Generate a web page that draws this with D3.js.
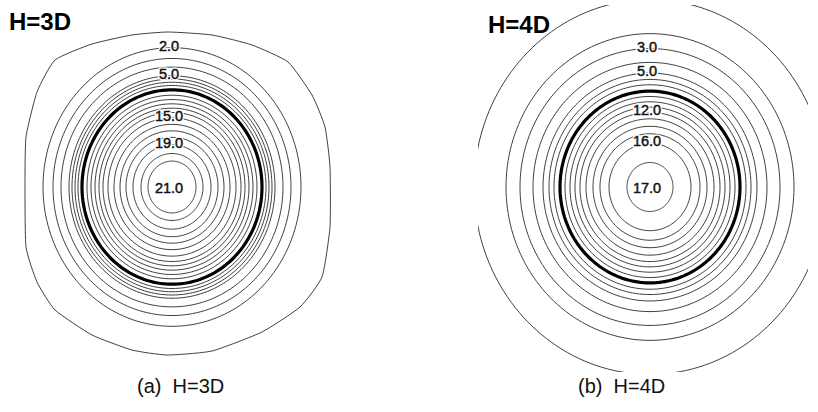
<!DOCTYPE html>
<html>
<head>
<meta charset="utf-8">
<script src="https://cdn.jsdelivr.net/npm/d3@7"></script>
<style>
  html, body { margin: 0; padding: 0; background: #fff; }
  svg { display: block; }
</style>
</head>
<body>
<svg id="chart" width="818" height="412"></svg>
<script>
// ---------------- DATA ----------------
// Panel (a) H=3D : contour levels and their horizontal radii (chart units)
const levelsA = [21, 20, 19, 18, 17, 16, 15, 14, 13, 12, 11, 10, 8, 7, 6, 5, 4, 3, 2];
const radiusA = [24, 31, 39, 46, 52, 58, 64, 69, 73, 77, 81, 85, 94, 97, 100, 103, 111, 119, 129];
const labelsA = [2, 5, 15, 19, 21];
// outermost (1.0) contour of panel (a), vertices (chart units, relative to centre)
const outerAx = [-4, 40, 80, 116, 140, 153, 158, 158, 150, 128, 90, 40, -5, -40, -80, -117, -135, -146, -147, -146, -135, -117, -80, -40];
const outerAy = [-155, -152, -142, -125, -92, -60, -20, 40, 90, 120, 145, 164, 168, 163, 148, 123, 95, 60, 0, -50, -95, -127, -143, -152];
const pileA = 90;      // thick ring radius
const aspectA = 1.08;  // vertical / horizontal radius

// Panel (b) H=4D
const levelsB = [17, 16, 15, 14, 13, 12, 11, 10, 9, 7, 6, 5, 4, 3, 2, 1];
const radiusB = [23, 41, 50, 57, 64, 70, 75, 80, 85, 96, 101, 107, 117, 130, 144, 176];
const labelsB = [3, 5, 12, 16, 17];
const pileB = 90;
const aspectB = 1.065;

const titles = ["H=3D", "H=4D"];
const captions = ["(a)  H=3D", "(b)  H=4D"];

// ---------------- DRAW ----------------
const svg = d3.select("#chart");
const angles = d3.range(0, 361, 2).map(d => d * Math.PI / 180);

function panel(opts) {
  const g = svg.append("g");
  const xs = d3.scaleLinear().domain([-200, 200]).range([opts.cx - 200, opts.cx + 200]);
  const ys = d3.scaleLinear().domain([-200, 200]).range([opts.cy - 200, opts.cy + 200]);

  let body = g;
  if (opts.clip) {
    const id = "clip" + opts.idx;
    svg.append("defs").append("clipPath").attr("id", id)
      .append("rect")
      .attr("x", xs(opts.clip[0])).attr("y", ys(opts.clip[2]))
      .attr("width", xs(opts.clip[1]) - xs(opts.clip[0]))
      .attr("height", ys(opts.clip[3]) - ys(opts.clip[2]));
    body = g.append("g").attr("clip-path", `url(#${id})`);
  }

  const ellipse = (r) => d3.line()
    .x(a => xs(r * Math.cos(a)))
    .y(a => ys(r * opts.aspect * Math.sin(a)))
    .curve(d3.curveLinearClosed)(angles);

  body.selectAll("path.ring")
    .data(opts.levels.map((l, i) => ({ level: l, r: opts.radius[i] })))
    .join("path")
    .attr("class", "ring")
    .attr("d", d => ellipse(d.r))
    .attr("fill", "none")
    .attr("stroke", "#2a2a2a")
    .attr("stroke-width", 0.9);

  if (opts.outerX) {
    const pts = opts.outerX.map((x, i) => [x, opts.outerY[i]]);
    body.append("path")
      .attr("d", d3.line().x(d => xs(d[0])).y(d => ys(d[1])).curve(d3.curveCardinalClosed.tension(0.5))(pts))
      .attr("fill", "none")
      .attr("stroke", "#2a2a2a")
      .attr("stroke-width", 0.9);
  }

  // thick ring
  body.append("path")
    .attr("d", ellipse(opts.pile))
    .attr("fill", "none")
    .attr("stroke", "#000")
    .attr("stroke-width", 3.2);

  // labels
  const maxL = d3.max(opts.levels);
  opts.labels.forEach(l => {
    const i = opts.levels.indexOf(l);
    const r = opts.radius[i];
    const atCentre = l === maxL;
    const yv = atCentre ? 1 : -r * opts.aspect - 2;
    const t = g.append("g");
    t.append("text")
      .attr("x", xs(-3)).attr("y", ys(yv))
      .attr("text-anchor", "middle")
      .attr("dominant-baseline", "central")
      .attr("font-family", "Liberation Sans, Arial, sans-serif")
      .attr("font-size", 14.5)
      .attr("fill", "#fff")
      .attr("stroke", "#fff")
      .attr("stroke-width", 3)
      .text(l.toFixed(1));
    t.append("text")
      .attr("x", xs(-3)).attr("y", ys(yv))
      .attr("text-anchor", "middle")
      .attr("dominant-baseline", "central")
      .attr("font-family", "Liberation Sans, Arial, sans-serif")
      .attr("font-size", 14.5)
      .attr("fill", "#111")
      .attr("stroke", "#111")
      .attr("stroke-width", 0.45)
      .text(l.toFixed(1));
  });

  // title
  svg.append("text")
    .attr("x", opts.tx).attr("y", opts.ty)
    .attr("font-family", "Liberation Sans, Arial, sans-serif")
    .attr("font-weight", "bold")
    .attr("font-size", 24)
    .attr("fill", "#000")
    .text(opts.title);

  // caption
  svg.append("text")
    .attr("x", opts.capx).attr("y", 393)
    .attr("font-family", "Liberation Sans, Arial, sans-serif")
    .attr("font-size", 20)
    .attr("fill", "#111")
    .style("white-space", "pre")
    .text(opts.caption);
}

panel({ idx: 0, cx: 172, cy: 187, levels: levelsA, radius: radiusA, labels: labelsA,
  outerX: outerAx, outerY: outerAy, pile: pileA, aspect: aspectA,
  title: titles[0], tx: 9, ty: 30, caption: captions[0], capx: 137 });

panel({ idx: 1, cx: 650, cy: 187, levels: levelsB, radius: radiusB, labels: labelsB,
  pile: pileB, aspect: aspectB, clip: [-172, 158, -182, 185],
  title: titles[1], tx: 488, ty: 33, caption: captions[1], capx: 578 });
</script>
</body>
</html>
